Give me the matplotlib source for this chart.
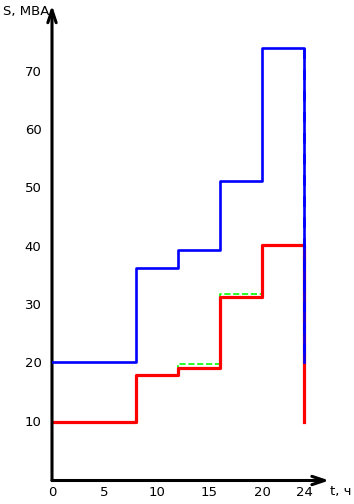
import matplotlib.pyplot as plt

# hours where load steps change
t_steps = [0, 8, 12, 16, 20, 24]
# apparent power, MVA
s_total = [20.3, 36.4, 39.5, 51.4, 74.2, 20.3]
s_red = [10.0, 18.1, 19.3, 31.5, 40.4, 10.0]
s_green = [10.0, 18.1, 20.0, 32.0, 40.4, 10.0]

x_ticks = [0, 5, 10, 15, 20, 24]
y_ticks = [10, 20, 30, 40, 50, 60, 70]

W, H = 354, 504
fig = plt.figure(figsize=(W / 100, H / 100), dpi=100)
# pixel frame: x=0 at px 52, 10.5 px per hour; y=0 at px 480.5 from top, 5.83 px per MVA
x0, y0 = 52, 480.5
ax = fig.add_axes([x0 / W, (H - y0) / H, (W - x0) / W, y0 / H])
ax.set_xlim(0, (W - x0) / 10.5)
ax.set_ylim(0, y0 / 5.83)
ax.axis('off')

ax.step(t_steps, s_green, where='post', color='#00ff00', lw=1.2, ls='--', zorder=2)
ax.step(t_steps, s_red, where='post', color='red', lw=2.3, zorder=3)
ax.step(t_steps, s_total, where='post', color='blue', lw=1.9, zorder=4)
ax.plot([24, 24], [s_total[-2], s_total[-1]], color='blue', lw=1.9, ls=(0, (4, 4)), zorder=5)

# axes with open arrow heads
arrow = dict(arrowstyle='->,head_length=0.9,head_width=0.3', color='black', lw=2.2,
             shrinkA=0, shrinkB=0)
ax.annotate('', xy=(0, 81.5), xytext=(0, 0), arrowprops=arrow)
ax.annotate('', xy=(26.4, 0), xytext=(0, 0), arrowprops=arrow)

font = dict(family='Liberation Sans Narrow', fontsize=9.5, color='black')
for v in x_ticks:
    ax.text(v, -2.0, str(v), ha='center', va='center', **font)
for v in y_ticks:
    ax.text(-1.0, v, str(v), ha='right', va='center', **font)

fig.text(3 / W, 1 - 12 / H, 'S, MBA', ha='left', va='center', **font)
fig.text(351 / W, 1 - 492 / H, 't, ч', ha='right', va='center', **font)

fig.savefig('out.png', dpi=100)
